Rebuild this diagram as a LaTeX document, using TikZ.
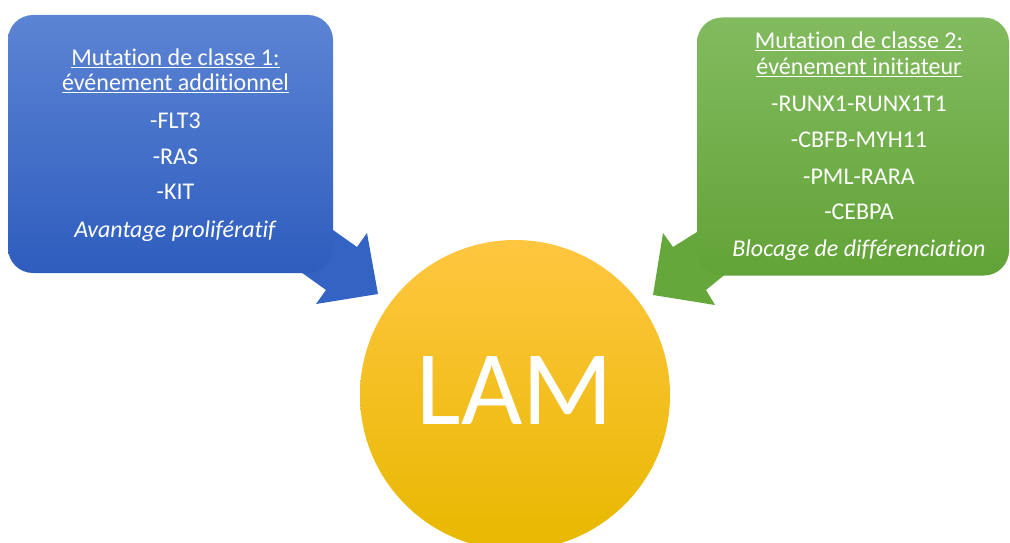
\documentclass[tikz,border=0pt]{standalone}
\usepackage{fontspec}
\setmainfont{Carlito}[Ligatures={NoCommon,NoContextual}]
\usepackage{tikz}
\usetikzlibrary{shapes}
\definecolor{bluetop}{HTML}{5C84D4}
\definecolor{bluebot}{HTML}{2E5DBE}
\definecolor{bluearr}{HTML}{3363C3}
\definecolor{greentop}{HTML}{82BB5F}
\definecolor{greenbot}{HTML}{62A337}
\definecolor{greenarr}{HTML}{65A73B}
\definecolor{yeltop}{HTML}{FFC640}
\definecolor{yelmid}{HTML}{FFC700}
\definecolor{yelbot}{HTML}{E8B800}
\tikzset{box/.style={rounded corners=25pt,minimum width=#1,minimum height=258pt,inner sep=0pt},
         txt/.style={white,align=center,font=\fontsize{24}{25}\selectfont},
         lam/.style={circle,minimum size=310pt,inner sep=0pt,top color=yeltop,middle color=yelmid,bottom color=yelbot}}

\begin{document}
\begin{tikzpicture}[x=1pt,y=-1pt]
    \useasboundingbox (0,0) rectangle (1010,543);

    % fleches
    \fill[bluearr] (285,196) -- (357,247) -- (367,233) -- (378,294) -- (316,304) -- (326,290) -- (263,245) -- cycle;
    \fill[greenarr] (745,202) -- (673,247) -- (663,233) -- (653,295) -- (715,305) -- (706,290) -- (754,251) -- cycle;

    \node[box=325pt,top color=bluetop,bottom color=bluebot] (c1) at (170.5,144) {};
    \node[box=312pt,top color=greentop,bottom color=greenbot] (c2) at (853,146.5) {};
    \node[lam] (lam) at (515,395) {};

    \node[txt] (t1) at ([xshift=5pt,yshift=-1pt]c1.center) {\underline{Mutation de classe 1:}\\
        \underline{événement additionnel}\\[13pt]
        -FLT3\\[11pt]
        -RAS\\[10pt]
        -KIT\\[13pt]
        \textit{Avantage prolifératif}};
    \node[txt] (t2) at ([xshift=6pt]c2.center) {\underline{Mutation de classe 2:}\\[1pt]
        \underline{événement initiateur}\\[12pt]
        -RUNX1-RUNX1T1\\[11pt]
        -CBFB-MYH11\\[12pt]
        -PML-RARA\\[10pt]
        -CEBPA\\[12pt]
        \textit{Blocage de différenciation}};
    \node[white,font=\fontsize{106}{106}\selectfont] (tl) at ([yshift=5pt]lam.center) {LAM};
\end{tikzpicture}
\end{document}
